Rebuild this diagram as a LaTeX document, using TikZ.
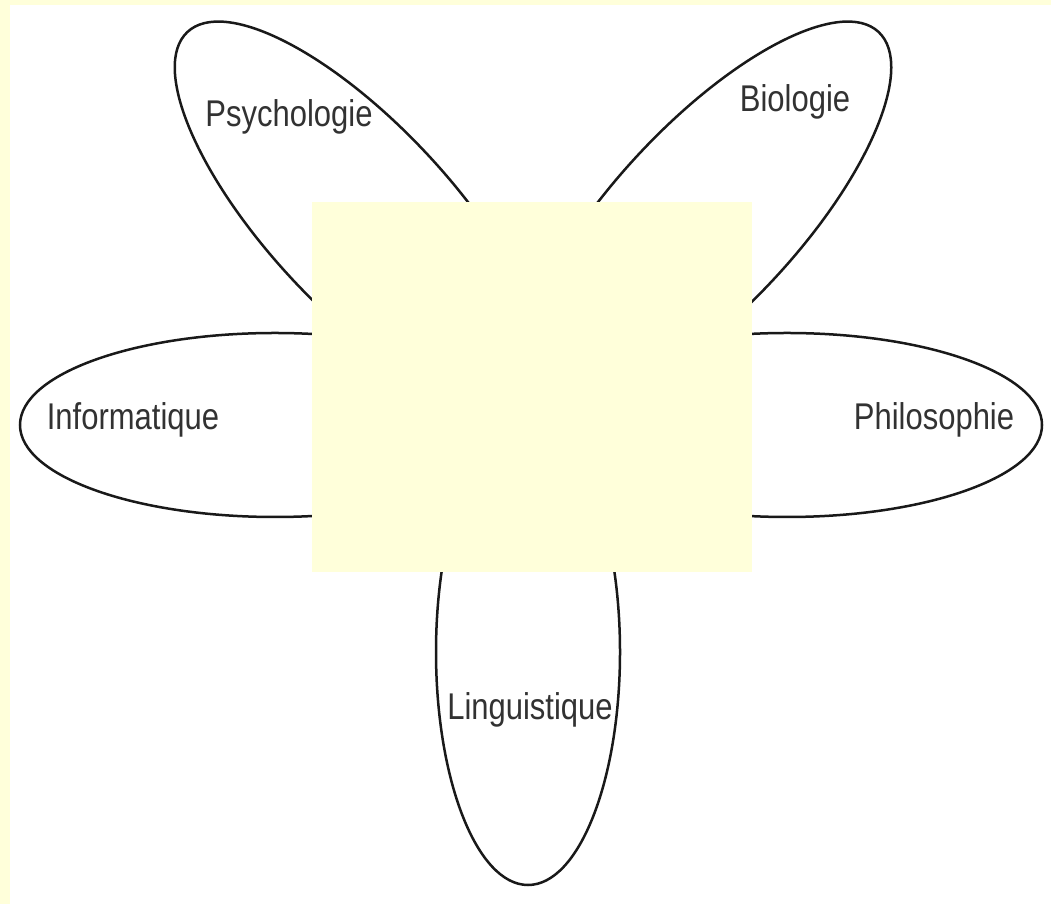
\documentclass[tikz,border=0pt]{standalone}
\usepackage{fontspec}
\setmainfont{Liberation Sans}
\usetikzlibrary{shapes.geometric}
\definecolor{paleyellow}{RGB}{255,255,218}
\definecolor{labelgray}{RGB}{50,50,50}
\tikzset{
  petal/.style={draw=black!90, line width=2.5pt, shape=ellipse, inner sep=0pt, minimum height=184pt},
  label/.style={anchor=base, inner sep=0pt, text=labelgray, font=\fontsize{31}{31}\selectfont},
  cover/.style={fill=paleyellow, draw=none}
}
\newcommand{\tall}[1]{\scalebox{1}[1.2]{#1}}
\begin{document}
\begin{tikzpicture}[x=1pt,y=1pt]
\useasboundingbox (0,0) rectangle (1051,904);
\fill[white] (0,0) rectangle (1051,904);
% frame bands
\fill[paleyellow] (0,0) rectangle (10,904);
\fill[paleyellow] (0,899) rectangle (1051,904);
% petals
\node[petal, minimum width=506pt, rotate=133] (psy) at (360,687) {};
\node[petal, minimum width=506pt, rotate=47] (bio) at (706,687) {};
\node[petal, minimum width=510pt] (info) at (275,479) {};
\node[petal, minimum width=510pt] (philo) at (787,479) {};
\node[petal, minimum width=466pt, rotate=90] (ling) at (528,252) {};
% central rectangle
\fill[cover] (312,332) rectangle (752,702);
\node[draw=none, inner sep=0pt, minimum width=440pt, minimum height=370pt] (centre) at (532,517) {};
% labels
\node[label] (lpsy) at (289,777) {\tall{Psychologie}};
\node[label] (lbio) at (795,792) {\tall{Biologie}};
\node[label] (linfo) at (133,474) {\tall{Informatique}};
\node[label] (lphilo) at (934,474) {\tall{Philosophie}};
\node[label] (lling) at (530,184) {\tall{Linguistique}};
\end{tikzpicture}
\end{document}
